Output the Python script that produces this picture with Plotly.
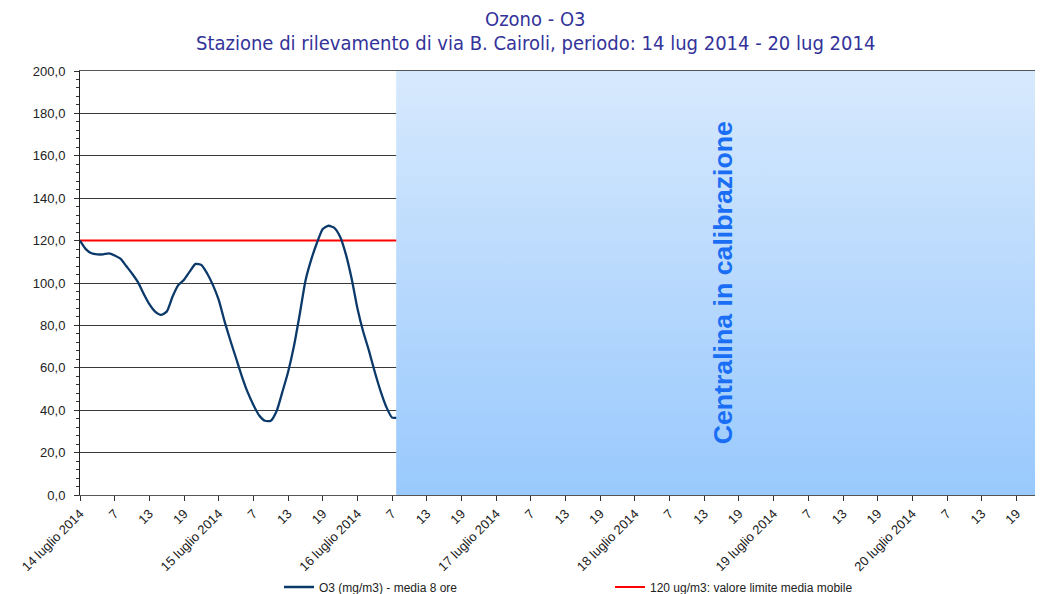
import plotly.graph_objects as go

# ---------------- data ----------------
days = ["14 luglio 2014", "15 luglio 2014", "16 luglio 2014", "17 luglio 2014",
        "18 luglio 2014", "19 luglio 2014", "20 luglio 2014"]
hour_labels = ["7", "13", "19"]
hours_per_day = 24
tick_step = 6

# O3 8-hour running mean, hourly from 14 luglio 2014 h1
o3_values = [120, 116, 114, 113.5, 113.5, 114, 113, 111.5, 108, 104.5,
             100.5, 95, 90, 86.5, 85, 86.5, 93.5, 99, 101.5, 105.5,
             109, 108.5, 104.5, 99, 92, 82, 73, 64.5, 56, 48.5,
             42.5, 37.5, 35, 35, 39.5, 48.5, 58, 70, 85, 101,
             111, 119, 125.5, 127, 126, 121.8, 113.5, 102, 88, 77,
             68, 58, 49, 41.5, 36.5, 36.5]
limit_value = 120
calibration_start = 54.7          # hour index where calibration begins
calibration_label = "Centralina in calibrazione"
title_line1 = "Ozono - O3"
title_line2 = "Stazione di rilevamento di via B. Cairoli, periodo: 14 lug 2014 - 20 lug 2014"
y_max = 200

n_hours = len(days) * hours_per_day
x_hours = list(range(len(o3_values)))

tickvals, ticktext = [], []
for d, day in enumerate(days):
    base = d * hours_per_day
    tickvals.append(base)
    ticktext.append(day)
    for k, lab in enumerate(hour_labels):
        tickvals.append(base + (k + 1) * tick_step)
        ticktext.append(lab)

x_end = 166.6

fig = go.Figure()

# limit line
fig.add_trace(go.Scatter(
    x=[0, n_hours], y=[limit_value, limit_value], mode="lines",
    line=dict(color="#ff0000", width=2),
    name="120 ug/m3: valore limite media mobile", legend="legend2",
    hoverinfo="skip"))

# O3 series
fig.add_trace(go.Scatter(
    x=x_hours, y=o3_values, mode="lines",
    line=dict(color="#0b3a6a", width=2.3, shape="spline", smoothing=0.6),
    name="O3 (mg/m3) - media 8 ore", legend="legend"))

# calibration shading (gradient)
fig.add_trace(go.Scatter(
    x=[calibration_start, n_hours, n_hours, calibration_start, calibration_start],
    y=[0, 0, y_max, y_max, 0],
    fill="toself", mode="lines", line=dict(width=0),
    fillgradient=dict(type="vertical",
                      colorscale=[[0, "#99c9fd"], [1, "#d7e9fd"]]),
    showlegend=False, hoverinfo="skip"))

fig.add_annotation(
    x=111.3, y=100, xref="x", yref="y", text="<b>%s</b>" % calibration_label,
    textangle=-90, showarrow=False,
    font=dict(family="Liberation Sans, Arial", size=26.7, color="#1a6ef5"))

# page has an 8px body margin -> figure is 8px smaller and shifted
OFF = 8
W, H = 1043 - OFF, 594 - OFF
L, R, T, B = 80 - OFF, 0, 71 - OFF, 99
pw, ph = W - L - R, H - T - B


def px_to_paper(px, py):
    """page pixel -> paper coords"""
    return (px - OFF - L) / pw, (H - B - (py - OFF)) / ph


title_font = dict(family="DejaVu Sans Condensed", size=20, color="#33339a")
tx, ty1 = px_to_paper(535, 19)
_, ty2 = px_to_paper(535, 43)
fig.add_annotation(x=tx, y=ty1, xref="paper", yref="paper", text=title_line1,
                   showarrow=False, font=title_font, xanchor="center", yanchor="middle")
fig.add_annotation(x=tx, y=ty2, xref="paper", yref="paper", text=title_line2,
                   showarrow=False, font=title_font, xanchor="center", yanchor="middle")

leg_font = dict(family="Liberation Sans, Arial", size=12, color="#222")
leg_y = (H - (587 - OFF)) / H
fig.update_layout(
    width=W, height=H,
    margin=dict(l=L, r=R, t=T, b=B, autoexpand=False),
    paper_bgcolor="white", plot_bgcolor="white",
    separators=",.",
    xaxis=dict(
        range=[0, x_end], tickvals=tickvals, ticktext=ticktext, tickangle=-45,
        ticks="outside", ticklen=5, tickcolor="#333", automargin=False,
        showgrid=False, zeroline=False,
        showline=True, linecolor="#555", linewidth=1, mirror=True,
        tickfont=dict(family="Liberation Sans, Arial", size=13, color="#222")),
    yaxis=dict(
        range=[0, y_max], dtick=20, tickformat=".1f", automargin=False,
        ticks="outside", ticklen=5, tickcolor="#333", ticklabelstandoff=6,
        minor=dict(dtick=4, ticks="outside", ticklen=3, tickcolor="#333", showgrid=False),
        showgrid=True, gridcolor="#3a3a3a", gridwidth=1, zeroline=False,
        showline=True, linecolor="#222", linewidth=1,
        tickfont=dict(family="Liberation Sans, Arial", size=13, color="#222")),
    legend=dict(orientation="h", xref="container", yref="container",
                x=(279 - OFF) / W, y=leg_y, yanchor="middle",
                xanchor="left", bgcolor="rgba(0,0,0,0)", font=leg_font),
    legend2=dict(orientation="h", xref="container", yref="container",
                 x=(610 - OFF) / W, y=leg_y, yanchor="middle",
                 xanchor="left", bgcolor="rgba(0,0,0,0)", font=leg_font),
)

fig.write_html("out.html")
